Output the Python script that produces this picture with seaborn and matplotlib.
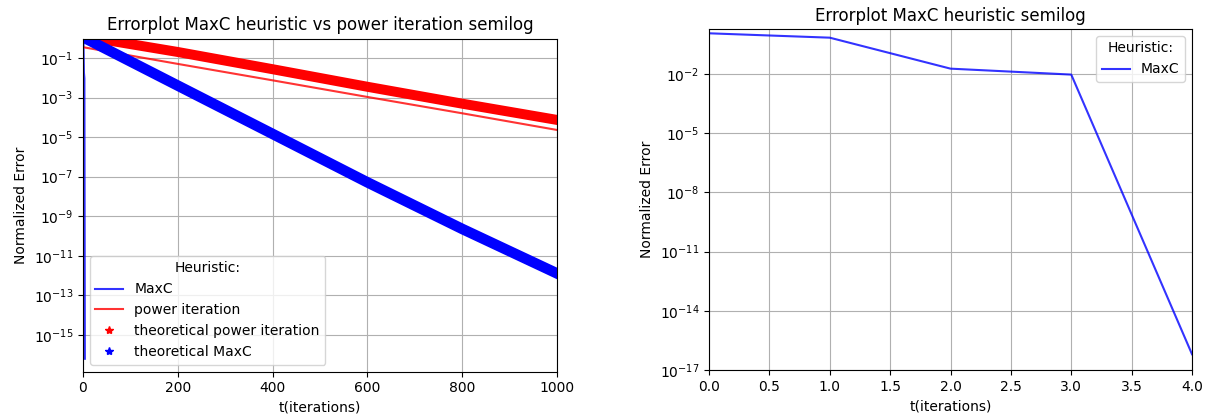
import matplotlib
matplotlib.use("Agg")
import matplotlib.pyplot as plt
from matplotlib.lines import Line2D
from matplotlib.ticker import NullLocator
import seaborn as sns

# ---- data ----
iters_maxc = [0, 1, 2, 3, 4]
maxc_err = [1.15, 0.69, 0.0186, 0.0093, 6.3e-17]

iters_key = [0, 200, 400, 600, 800, 1000]
power_err = [0.35, 0.050, 0.0074, 0.00107, 1.6e-4, 2.3e-5]
theo_power_err = [1.26, 0.20, 0.027, 0.0035, 4.9e-4, 7.4e-5]
theo_maxc_err = [1.12, 4.0e-3, 1.45e-5, 5.2e-8, 2.3e-10, 1.3e-12]

left_yticks = [1e-15, 1e-13, 1e-11, 1e-9, 1e-7, 1e-5, 1e-3, 1e-1]
right_yticks = [1e-17, 1e-14, 1e-11, 1e-8, 1e-5, 1e-2]

legend_labels = ["MaxC", "power iteration", "theoretical power iteration", "theoretical MaxC"]

DPI = 100
fig = plt.figure(figsize=(1206 / DPI, 416 / DPI), dpi=DPI)
ax1 = fig.add_axes([0.0688, 0.1065, 0.393, 0.8005])
ax2 = fig.add_axes([0.5879, 0.1106, 0.4005, 0.8197])

# ---- left panel ----
sns.lineplot(x=iters_maxc, y=maxc_err, ax=ax1, color="blue", alpha=0.8,
             linewidth=1.5, legend=False)
sns.lineplot(x=iters_key, y=power_err, ax=ax1, color="red", alpha=0.8,
             linewidth=1.5, legend=False)
sns.lineplot(x=iters_key, y=theo_power_err, ax=ax1, color="red",
             linewidth=7.2, legend=False, solid_capstyle="projecting")
sns.lineplot(x=iters_key, y=theo_maxc_err, ax=ax1, color="blue",
             linewidth=7.6, legend=False, solid_capstyle="projecting")

ax1.set_yscale("log")
ax1.set_xlim(0, 1000)
ax1.set_ylim(1.4e-17, 0.94)
ax1.set_yticks(left_yticks)
ax1.yaxis.set_minor_locator(NullLocator())
ax1.grid(True, color="#b0b0b0", linewidth=0.8)
ax1.set_title("Errorplot MaxC heuristic vs power iteration semilog", fontsize=12)
ax1.set_xlabel("t(iterations)")
ax1.set_ylabel("Normalized Error")

handles = [
    Line2D([], [], color="blue", alpha=0.8, linewidth=1.5),
    Line2D([], [], color="red", alpha=0.8, linewidth=1.5),
    Line2D([], [], color="red", marker="*", linestyle="none"),
    Line2D([], [], color="blue", marker="*", linestyle="none"),
]
ax1.legend(handles, legend_labels, title="Heuristic:", loc="lower left")

# ---- right panel ----
sns.lineplot(x=iters_maxc, y=maxc_err, ax=ax2, color="blue", alpha=0.8,
             linewidth=1.5, legend=False)
ax2.set_yscale("log")
ax2.set_xlim(0, 4)
ax2.set_ylim(1e-17, 1.9)
ax2.set_yticks(right_yticks)
ax2.yaxis.set_minor_locator(NullLocator())
ax2.grid(True, color="#b0b0b0", linewidth=0.8)
ax2.set_title("Errorplot MaxC heuristic semilog", fontsize=12)
ax2.set_xlabel("t(iterations)")
ax2.set_ylabel("Normalized Error")
ax2.legend([Line2D([], [], color="blue", alpha=0.8, linewidth=1.5)], ["MaxC"],
           title="Heuristic:", loc="upper right")

fig.savefig("out.png", dpi=DPI)
